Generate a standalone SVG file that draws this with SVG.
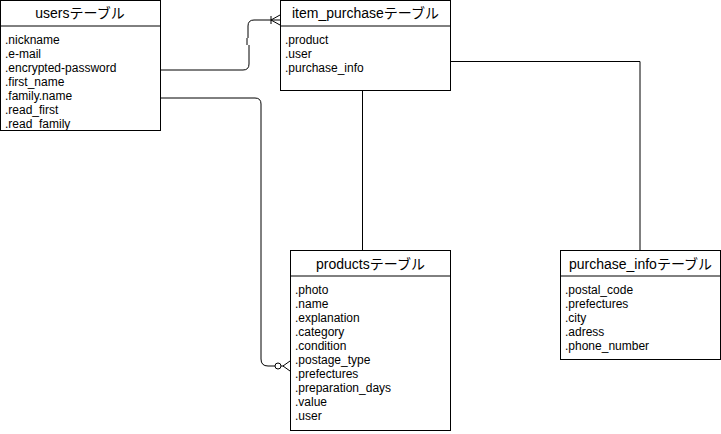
<svg xmlns="http://www.w3.org/2000/svg" width="721" height="434" viewBox="0 0 721 434">
<style>
.box{fill:#fff;stroke:#000;stroke-width:1}
.hd{font-family:"Liberation Sans","Noto Sans CJK JP",sans-serif;font-size:14px;fill:#000;text-anchor:middle}
.fd{font-family:"Liberation Sans","Noto Sans CJK JP",sans-serif;font-size:12px;fill:#000}
.ln{fill:none;stroke:#000;stroke-width:1}
</style>
<rect width="721" height="434" fill="#fff"/>
<g id="connectors">
<path class="ln" d="M160,70 H243 Q249,70 249,64 V45 M248,38 V26 Q248,20 254,20 H280"/>
<path class="ln" d="M247,38 V45"/>
<path class="ln" d="M271,16 V24 M271,20 L280,15 M271,20 L280,25"/>
<path class="ln" d="M160,98 H255 Q261,98 261,104 V359 Q261,366 268,366 H275"/>
<circle cx="278" cy="366" r="3" fill="#fff" stroke="#000"/>
<path class="ln" d="M281,366 H284 M283,366 L290,361 M283,366 L290,371"/>
<path class="ln" d="M362.5,90 V250"/>
<path class="ln" d="M450,61.5 H640 V250" stroke="#333"/>
</g>
<g id="users">
<rect class="box" x="0.5" y="0.5" width="160" height="130"/>
<line class="ln" x1="0.5" y1="26" x2="160.5" y2="26"/>
<text class="hd" x="80" y="18">usersテーブル</text>
<text class="fd" x="5" y="44">.nickname</text>
<text class="fd" x="5" y="58">.e-mail</text>
<text class="fd" x="5" y="72">.encrypted-password</text>
<text class="fd" x="5" y="86">.first_name</text>
<text class="fd" x="5" y="100">.family.name</text>
<text class="fd" x="5" y="114">.read_first</text>
<text class="fd" x="5" y="128">.read_family</text>
</g>
<g id="item_purchase">
<rect class="box" x="280.5" y="0.5" width="170" height="90"/>
<line class="ln" x1="280.5" y1="26" x2="450.5" y2="26"/>
<text class="hd" x="365.5" y="18">item_purchaseテーブル</text>
<text class="fd" x="285" y="44">.product</text>
<text class="fd" x="285" y="58">.user</text>
<text class="fd" x="285" y="72">.purchase_info</text>
</g>
<g id="products">
<rect class="box" x="290.5" y="250.5" width="160" height="180"/>
<line class="ln" x1="290.5" y1="276" x2="450.5" y2="276"/>
<text class="hd" x="370.5" y="269">productsテーブル</text>
<text class="fd" x="295" y="294">.photo</text>
<text class="fd" x="295" y="308">.name</text>
<text class="fd" x="295" y="322">.explanation</text>
<text class="fd" x="295" y="336">.category</text>
<text class="fd" x="295" y="350">.condition</text>
<text class="fd" x="295" y="364">.postage_type</text>
<text class="fd" x="295" y="378">.prefectures</text>
<text class="fd" x="295" y="392">.preparation_days</text>
<text class="fd" x="295" y="406">.value</text>
<text class="fd" x="295" y="420">.user</text>
</g>
<g id="purchase_info">
<rect class="box" x="560.5" y="250.5" width="160" height="109"/>
<line class="ln" x1="560.5" y1="276" x2="720.5" y2="276"/>
<text class="hd" x="640.5" y="269">purchase_infoテーブル</text>
<text class="fd" x="565" y="294">.postal_code</text>
<text class="fd" x="565" y="308">.prefectures</text>
<text class="fd" x="565" y="322">.city</text>
<text class="fd" x="565" y="336">.adress</text>
<text class="fd" x="565" y="350">.phone_number</text>
</g>
</svg>
